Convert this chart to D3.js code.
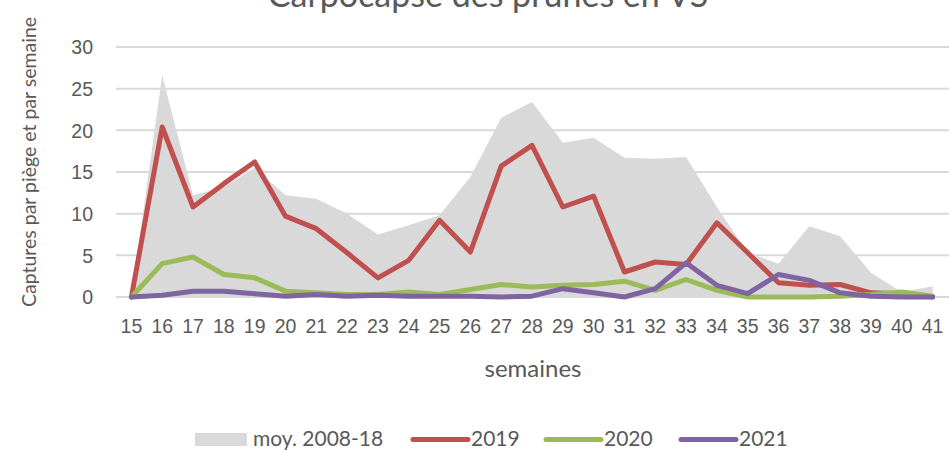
<!DOCTYPE html>
<html>
<head>
<meta charset="utf-8">
<script src="https://cdn.jsdelivr.net/npm/d3@7"></script>
<style>
  body { margin: 0; background: #fff; }
  svg { display: block; font-family: Lato, "Open Sans", sans-serif; }
  .axis text { fill: #595959; font-size: 19.5px; }
  .grid line { stroke: #d9d9d9; stroke-width: 2px; }
</style>
</head>
<body>
<svg id="chart" width="949" height="450"></svg>
<script>
// semaines 15..41
const weeks = ['15','16','17','18','19','20','21','22','23','24','25','26','27','28','29','30','31','32','33','34','35','36','37','38','39','40','41']
const yTicks = [0, 5, 10, 15, 20, 25, 30]

const moy = [0, 26.6, 12.2, 13.2, 15.5, 12.2, 11.8, 10.0, 7.5, 8.6, 9.8, 14.4, 21.5, 23.4, 18.5, 19.1, 16.7, 16.6, 16.8, 10.8, 5.3, 4.0, 8.5, 7.3, 2.9, 0.6, 1.3]
const y2019 = [0, 20.4, 10.8, 13.6, 16.2, 9.7, 8.2, 5.3, 2.3, 4.4, 9.2, 5.4, 15.7, 18.2, 10.8, 12.1, 3.0, 4.2, 3.9, 8.9, 5.3, 1.7, 1.4, 1.5, 0.5, 0.4, 0]
const y2020 = [0, 4.0, 4.8, 2.7, 2.3, 0.7, 0.5, 0.3, 0.3, 0.6, 0.3, 0.9, 1.5, 1.2, 1.4, 1.5, 1.9, 0.8, 2.1, 0.8, 0, 0, 0, 0.1, 0.3, 0.6, 0.1]
const y2021 = [0, 0.2, 0.7, 0.7, 0.4, 0.1, 0.3, 0.1, 0.2, 0.1, 0.1, 0.1, 0.0, 0.1, 1.0, 0.5, 0.0, 1.0, 4.1, 1.4, 0.4, 2.7, 2.0, 0.5, 0.1, 0, 0]

const series = [
  {name: '2019', values: y2019, color: '#c0504d'},
  {name: '2020', values: y2020, color: '#9bbb59'},
  {name: '2021', values: y2021, color: '#8064a2'}
]

const frame = {left: 116, right: 948, top: 47, bottom: 297}
const svg = d3.select('#chart')

const x = d3.scaleBand().domain(weeks).range([frame.left, frame.right])
const xc = w => x(w) + x.bandwidth() / 2
const y = d3.scaleLinear().domain([0, 30]).range([frame.bottom, frame.top])

// grid
svg.append('g').attr('class', 'grid')
  .selectAll('line').data(yTicks).join('line')
  .attr('x1', frame.left).attr('x2', 949)
  .attr('y1', d => y(d)).attr('y2', d => y(d))

// area moyenne
const area = d3.area().x((d, i) => xc(weeks[i])).y0(y(0)).y1(d => y(d))
svg.append('path').datum(moy).attr('d', area).attr('fill', '#d9d9d9')

// lines
const line = d3.line().x((d, i) => xc(weeks[i])).y(d => y(d))
series.forEach(s => {
  svg.append('path').datum(s.values).attr('d', line)
    .attr('fill', 'none').attr('stroke', s.color).attr('stroke-width', 5)
    .attr('stroke-linejoin', 'round').attr('stroke-linecap', 'round')
})

// axes
const yAxis = svg.append('g').attr('class', 'axis')
  .attr('transform', 'translate(' + (frame.left - 10) + ',0)')
  .call(d3.axisLeft(y).tickValues(yTicks).tickSize(0).tickPadding(13))
yAxis.select('.domain').remove()
yAxis.selectAll('text').attr('dy', '0.35em')

const xAxis = svg.append('g').attr('class', 'axis')
  .attr('transform', 'translate(0,' + frame.bottom + ')')
  .call(d3.axisBottom(x).tickSize(0).tickPadding(22))
xAxis.select('.domain').remove()

// titles
svg.append('text').attr('x', 488).attr('y', 7).attr('text-anchor', 'middle')
  .attr('fill', '#595959').style('font-size', '34px').text('Carpocapse des prunes en VS')
svg.append('text').attr('x', 533).attr('y', 377).attr('text-anchor', 'middle')
  .attr('fill', '#595959').style('font-size', '24px').text('semaines')
svg.append('text').attr('transform', 'translate(36,162) rotate(-90)').attr('text-anchor', 'middle')
  .attr('fill', '#595959').style('font-size', '19.5px').text('Captures par piège et par semaine')

// legend
const lg = svg.append('g').attr('class', 'legend')
lg.append('rect').attr('x', 195).attr('y', 433).attr('width', 52).attr('height', 13).attr('fill', '#d9d9d9')
lg.append('text').attr('x', 253).attr('y', 446).attr('fill', '#595959').style('font-size', '21px').text('moy. 2008-18')
const legendX = [413, 546, 681]
series.forEach((s, i) => {
  lg.append('line').attr('x1', legendX[i]).attr('x2', legendX[i] + 55).attr('y1', 439.5).attr('y2', 439.5)
    .attr('stroke', s.color).attr('stroke-width', 5).attr('stroke-linecap', 'round')
  lg.append('text').attr('x', legendX[i] + 58).attr('y', 446).attr('fill', '#595959').style('font-size', '21px').text(s.name)
})
</script>
</body>
</html>
